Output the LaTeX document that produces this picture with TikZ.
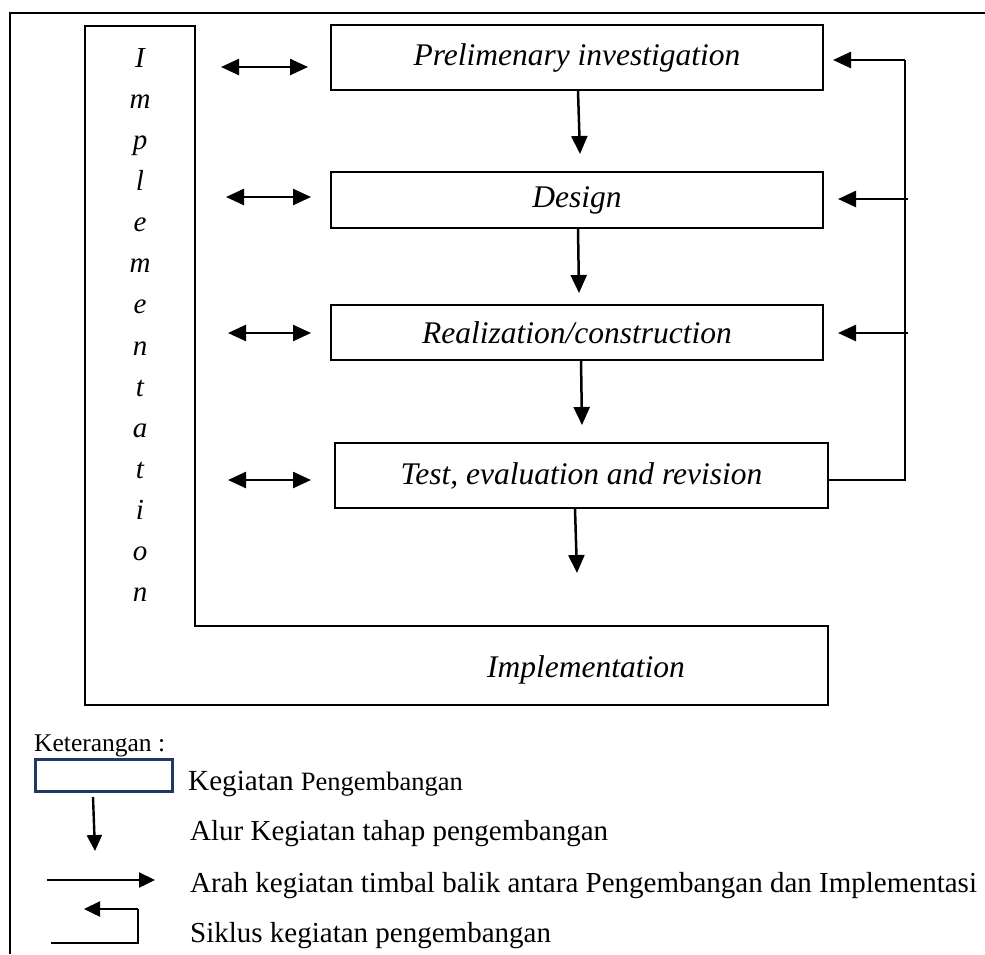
\documentclass[tikz,border=0pt]{standalone}
\usepackage{fontspec}
\setmainfont{Liberation Serif}
\usetikzlibrary{arrows.meta}
\definecolor{navy}{RGB}{31,56,100}
\begin{document}
\begin{tikzpicture}[x=1pt,y=-1pt,
  box/.style={draw, line width=1.8pt, inner sep=0pt, font=\itshape\fontsize{31.5}{36}\selectfont},
  vletter/.style={inner sep=0pt, anchor=base, font=\itshape\fontsize{29}{32}\selectfont},
  bigtxt/.style={inner sep=0pt, anchor=base, font=\itshape\fontsize{31.5}{36}\selectfont},
  legtxt/.style={inner sep=0pt, anchor=base west, font=\fontsize{29}{32}\selectfont},
  frame/.style={line width=1.8pt},
  conn/.style={line width=2.5pt, -{Triangle[length=18pt,width=16pt]}},
  dbl/.style={line width=2.5pt, {Triangle[length=18pt,width=16pt]}-{Triangle[length=18pt,width=16pt]}},
  legarrow/.style={line width=2.4pt, -{Triangle[length=16pt,width=15pt]}}
]
\useasboundingbox (0,0) rectangle (985,954);
% outer frame
\draw[frame] (985,13) -- (10,13) -- (10,954);
% L-shaped implementation frame
\draw[frame] (85,26) -- (195,26) -- (195,626) -- (828,626) -- (828,705) -- (85,705) -- cycle;
\foreach \c [count=\i from 0] in {I,m,p,l,e,m,e,n,t,a,t,i,o,n}
  \node[vletter] (v\i) at (140,{67+41.15*\i}) {\c};
\node[bigtxt] (impl) at (586,677) {Implementation};
% development boxes
\node[box, minimum width=492pt, minimum height=65pt] (p1) at (577,57.5) {Prelimenary investigation};
\node[box, minimum width=492pt, minimum height=56pt] (p2) at (577,200) {Design};
\node[box, minimum width=492pt, minimum height=55pt] (p3) at (577,332.5) {Realization/construction};
\node[box, minimum width=493pt, minimum height=65pt] (p4) at (581.5,475.5) {Test, evaluation and revision};
% flow arrows
\coordinate (d1) at (580,154);
\coordinate (d2) at (579,293);
\coordinate (d3) at (582,425);
\coordinate (d4) at (577,573);
\draw[conn] (p1.south -| 578,0) -- (d1);
\draw[conn] (p2.south -| 578,0) -- (d2);
\draw[conn] (p3.south -| 581,0) -- (d3);
\draw[conn] (p4.south -| 575,0) -- (d4);
% two-way arrows
\foreach \y/\a/\b [count=\k] in {67/221/308, 197/226/311, 333/228/311, 480/228/311}{
  \coordinate (l\k) at (\a,\y);
  \coordinate (r\k) at (\b,\y);
  \draw[dbl] (l\k) -- (r\k);
}
% feedback cycle
\coordinate (fb) at (905,480);
\coordinate (ft) at (905,60);
\coordinate (e2) at (908,199);
\coordinate (e3) at (908,333);
\coordinate (a1) at (833,60);
\coordinate (a2) at (838,199);
\coordinate (a3) at (838,333);
\draw[frame] (p4.east |- fb) -- (fb) -- (ft);
\draw[conn] (ft) -- (a1);
\draw[conn] (e2) -- (a2);
\draw[conn] (e3) -- (a3);
% legend
\node[inner sep=0pt, anchor=base west, font=\fontsize{25.5}{28}\selectfont] (ket) at (34,751) {Keterangan :};
\node[draw=navy, line width=3pt, inner sep=0pt, minimum width=137pt, minimum height=32pt, anchor=north west] (lb) at (34,758) {};
\node[legtxt] (t1) at (188,790) {\fontsize{29.2}{32}\selectfont Kegiatan \fontsize{26.5}{30}\selectfont Pengembangan};
\coordinate (ld1) at (93,797);
\coordinate (ld2) at (95,851);
\draw[legarrow] (ld1) -- (ld2);
\node[legtxt] (t2) at (190,840) {Alur Kegiatan tahap pengembangan};
\coordinate (lr1) at (47,880);
\coordinate (lr2) at (155,880);
\draw[legarrow] (lr1) -- (lr2);
\node[legtxt] (t3) at (190,892) {Arah kegiatan timbal balik antara Pengembangan dan Implementasi};
\coordinate (ls1) at (51,943);
\coordinate (ls2) at (138,909);
\coordinate (ls3) at (84,909);
\draw[frame] (ls1) -| (ls2);
\draw[legarrow] (ls2) -- (ls3);
\node[legtxt] (t4) at (190,942) {Siklus kegiatan pengembangan};
\end{tikzpicture}
\end{document}
